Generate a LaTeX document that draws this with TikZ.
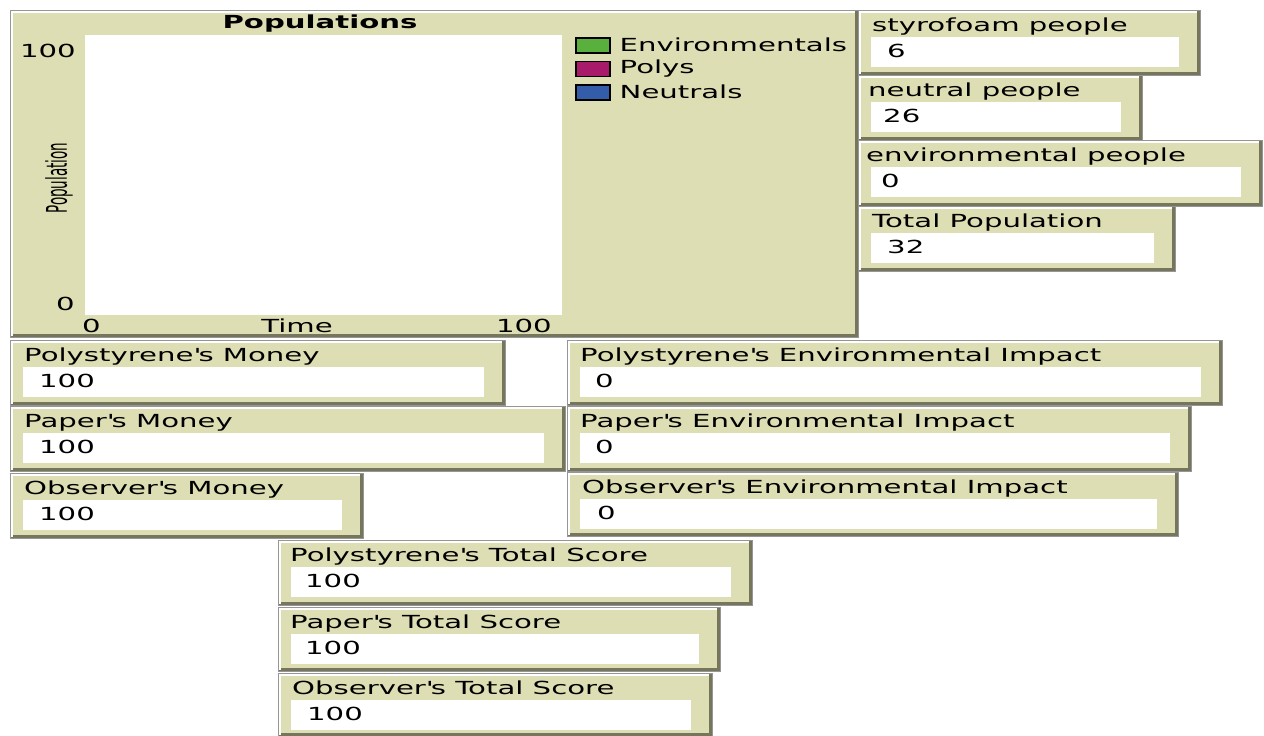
\documentclass[tikz,border=0pt]{standalone}
\usepackage{fontspec}
\setmainfont[FakeStretch=1.62]{DejaVu Sans}
\newfontfamily\axisfont{DejaVu Sans Condensed}
\usetikzlibrary{positioning}
\definecolor{panelbg}{RGB}{222,222,180}
\definecolor{panelshadow}{RGB}{118,118,92}
\definecolor{panelrim}{RGB}{150,150,150}
\definecolor{envgreen}{RGB}{89,176,60}
\definecolor{polymagenta}{RGB}{167,27,106}
\definecolor{neutralblue}{RGB}{52,93,169}
\tikzset{
  panel/.style={fill=panelbg, draw=panelrim, line width=1pt, inner sep=0pt, anchor=north west},
  valbox/.style={fill=white, inner sep=0pt, anchor=north west},
  monfont/.style={font=\fontsize{18}{20}\selectfont, inner sep=0pt},
  lbl/.style={monfont, anchor=base west},
  legkey/.style={draw=black, line width=1.5pt, minimum width=34pt, minimum height=15pt, inner sep=0pt, anchor=north west},
  shadowline/.style={panelshadow, line width=3pt},
  lightline/.style={white, line width=2pt}
}

\begin{document}
\begin{tikzpicture}[x=1pt, y=-1pt]
\useasboundingbox[fill=white] (0,0) rectangle (1264,736);

% plot widget
\node[panel, minimum width=848pt, minimum height=327pt] (plotpanel) at (10,10) {};
\draw[shadowline] ([xshift=-2.5pt,yshift=-1pt]plotpanel.north east) -- ([xshift=-2.5pt,yshift=2.5pt]plotpanel.south east) -- ([xshift=1pt,yshift=2.5pt]plotpanel.south west);
\draw[lightline] ([xshift=2pt,yshift=2pt]plotpanel.south west) -- ([xshift=2pt,yshift=-2pt]plotpanel.north west) -- ([xshift=-4pt,yshift=-2pt]plotpanel.north east);
\node[valbox, minimum width=477pt, minimum height=280pt] (plotarea) at (85,35) {};
\node[monfont, font=\fontsize{18}{20}\selectfont\bfseries] (plottitle) at (320,24) {Populations};
\node[lbl, anchor=base east] (ymax) at (76,57) {100};
\node[lbl, anchor=base east] (ymin) at (75,310) {0};
\node[lbl] (xmin) at (82,332) {0};
\node[lbl, anchor=base] (xname) at (297,332) {Time};
\node[lbl, anchor=base east] (xmax) at (552,332) {100};
\node[rotate=90, inner sep=0pt, font=\axisfont\fontsize{15}{16}\selectfont] (yname) at (59,178) {\scalebox{1}[1.9]{Population}};

% legend
\foreach \key/\col/\txt [count=\i] in {envi/envgreen/Environmentals, poly/polymagenta/Polys, neut/neutralblue/Neutrals} {
  \node[legkey, fill=\col] (key-\key) at (575,{37+(\i-1)*23.5}) {};
  \node[lbl, anchor=west] (leg-\key) at ([xshift=9pt]key-\key.east) {\txt};
}

% monitors
\foreach \nm/\xa/\ya/\xb/\yb/\lx/\lab/\val in {
  styro/858/10/1200/75/14/styrofoam people/6,
  neutral/858/75/1142/140/10/neutral people/26,
  enviro/858/140/1262/206/8/environmental people/0,
  total/858/206/1175/271/14/Total Population/32,
  polymoney/10/340/505/405/14/Polystyrene\textquotesingle s Money/100,
  papermoney/10/406/565/471/14/Paper\textquotesingle s Money/100,
  obsmoney/10/473/363/538/14/Observer\textquotesingle s Money/100,
  polyimpact/567/340/1222/405/13/Polystyrene\textquotesingle s Environmental Impact/0,
  paperimpact/567/406/1191/471/13/Paper\textquotesingle s Environmental Impact/0,
  obsimpact/567/472/1178/536/15/Observer\textquotesingle s Environmental Impact/0,
  polyscore/278/540/752/605/12/Polystyrene\textquotesingle s Total Score/100,
  paperscore/278/607/720/671/12/Paper\textquotesingle s Total Score/100,
  obsscore/278/673/712/736/14/Observer\textquotesingle s Total Score/100} {
  \node[panel, minimum width={(\xb-\xa)*1pt}, minimum height={(\yb-\ya)*1pt}] (\nm) at (\xa,\ya) {};
  \draw[shadowline] ([xshift=-2.5pt,yshift=-1pt]\nm.north east) -- ([xshift=-2.5pt,yshift=2.5pt]\nm.south east) -- ([xshift=1pt,yshift=2.5pt]\nm.south west);
  \draw[lightline] ([xshift=2pt,yshift=2pt]\nm.south west) -- ([xshift=2pt,yshift=-2pt]\nm.north west) -- ([xshift=-4pt,yshift=-2pt]\nm.north east);
  \node[valbox, minimum width={(\xb-\xa-34)*1pt}, minimum height=30pt] (\nm-v) at ([xshift=13pt,yshift=-27pt]\nm.north west) {};
  \node[lbl] (\nm-l) at ([xshift=\lx pt,yshift=-21pt]\nm.north west) {\lab};
  \node[lbl] (\nm-n) at ([xshift={(\lx+15)*1pt},yshift=-47pt]\nm.north west) {\val};
}
\end{tikzpicture}
\end{document}
